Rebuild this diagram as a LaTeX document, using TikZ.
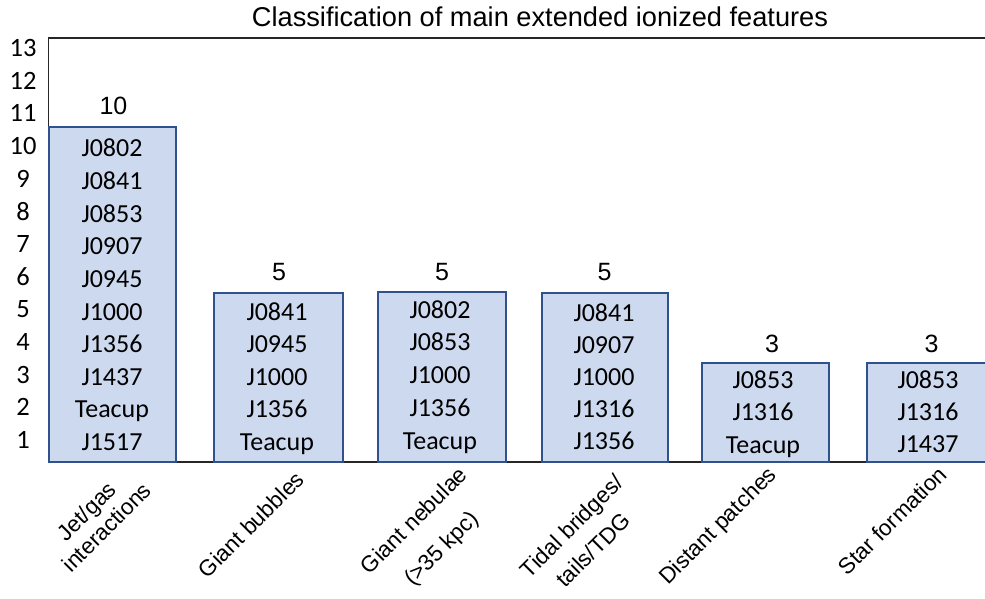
\documentclass[tikz,border=0pt]{standalone}
\usepackage{fontspec}
\setmainfont{Liberation Sans}
\newfontfamily\calfont{Carlito}
\definecolor{barfill}{RGB}{205,217,238}
\definecolor{barline}{RGB}{47,82,143}
\definecolor{axisline}{RGB}{38,38,38}
\tikzset{
  bar/.style={draw=barline, fill=barfill, line width=1.4pt},
  bartext/.style={font=\calfont\fontsize{26}{30}\selectfont, anchor=base, inner sep=0pt},
  ytick/.style={font=\calfont\fontsize{26.5}{30}\selectfont, anchor=center, inner sep=0pt},
  count/.style={font=\fontsize{25}{30}\selectfont, anchor=base, inner sep=0pt},
  xlab/.style={font=\fontsize{22.5}{26}\selectfont, anchor=base east, rotate=45, inner sep=0pt},
  axis/.style={draw=axisline, line width=1.3pt}
}
\begin{document}
\begin{tikzpicture}[x=1pt, y=-1pt]
\clip (0,0) rectangle (985,599);
% title
\node[font=\fontsize{27.2}{30}\selectfont, anchor=base, inner sep=0pt] (title) at (540,27) {Classification of main extended ionized features};
% axes frame
\coordinate (tl) at (48.5,38);
\coordinate (tr) at (995,38);
\coordinate (bl) at (48.5,462);
\coordinate (br) at (995,462);
\draw[axis] (tr) -- (tl) -- (bl) -- (br);
% y tick labels
\foreach \n in {1,...,13}
  \node[ytick] (y\n) at (23,{48+32.67*(13-\n)}) {\n};
% bars
\path[bar] (49,127) rectangle (176,462);
\path[bar] (214,293) rectangle (343,462);
\path[bar] (378,292) rectangle (506,462);
\path[bar] (542,293) rectangle (668,462);
\path[bar] (702,363) rectangle (829,462);
\path[bar] (867,363) rectangle (994,462);
% bar texts
\foreach \t [count=\i from 0] in {J0802,J0841,J0853,J0907,J0945,J1000,J1356,J1437,Teacup,J1517}
  \node[bartext] (a\i) at (112,{157+32.6*\i}) {\t};
\foreach \t [count=\i from 0] in {J0841,J0945,J1000,J1356,Teacup}
  \node[bartext] (b\i) at (277,{320+32.5*\i}) {\t};
\foreach \t [count=\i from 0] in {J0802,J0853,J1000,J1356,Teacup}
  \node[bartext] (c\i) at (440,{318+32.8*\i}) {\t};
\foreach \t [count=\i from 0] in {J0841,J0907,J1000,J1316,J1356}
  \node[bartext] (d\i) at (604,{321+32.2*\i}) {\t};
\foreach \t [count=\i from 0] in {J0853,J1316,Teacup}
  \node[bartext] (e\i) at (763,{388+32.5*\i}) {\t};
\foreach \t [count=\i from 0] in {J0853,J1316,J1437}
  \node[bartext] (f\i) at (928,{388+32.2*\i}) {\t};
% counts
\node[count] (n1) at (113.5,115) {10};
\node[count] (n2) at (279,280) {5};
\node[count] (n3) at (442,280) {5};
\node[count] (n4) at (604.5,280) {5};
\node[count] (n5) at (772,352) {3};
\node[count] (n6) at (931.5,352) {3};
% category labels
\node[xlab] (x1a) at (118,491) {Jet/gas};
\node[xlab] (x1b) at (153,492) {interactions};
\node[xlab] (x2) at (306,481) {Giant bubbles};
\node[xlab] (x3a) at (469,476) {Giant nebulae};
\node[xlab] (x3b) at (480,520) {(>35 kpc)};
\node[xlab] (x4a) at (625,484) {Tidal bridges/};
\node[xlab] (x4b) at (632,522) {tails/TDG};
\node[xlab] (x5) at (778,476) {Distant patches};
\node[xlab] (x6) at (948,476) {Star formation};
\end{tikzpicture}
\end{document}
